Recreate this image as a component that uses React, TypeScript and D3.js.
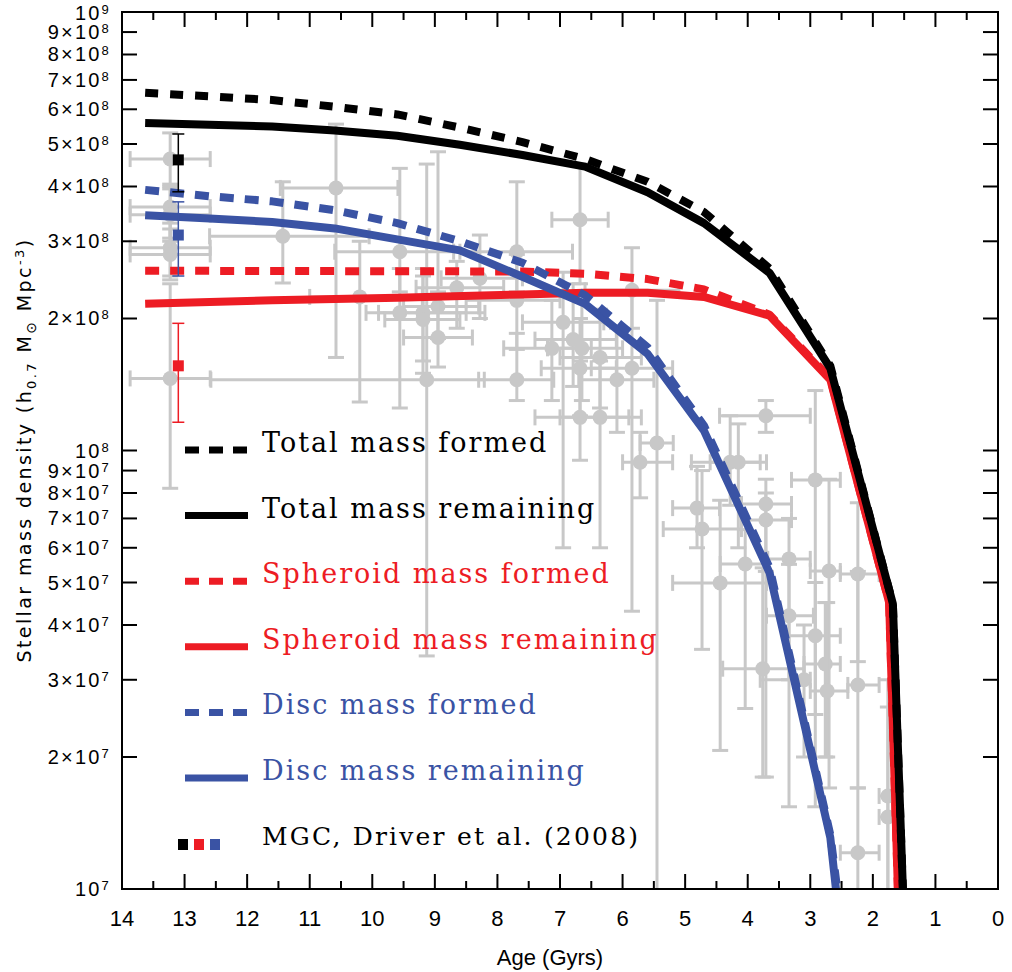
import * as d3 from "d3";

// model curves, [age in Gyr, stellar mass density]
const totalFormed: [number, number][] = [
  [13.63, 6.54e8], [12.6, 6.42e8], [11.6, 6.3e8], [10.6, 6.08e8], [9.6, 5.84e8],
  [8.6, 5.45e8], [7.6, 5.05e8], [6.6, 4.62e8], [5.6, 4.1e8], [4.7, 3.5e8],
  [3.65, 2.6e8], [2.68, 1.56e8], [1.68, 4.47e7], [1.52, 1e7],
];
const totalRemaining: [number, number][] = [
  [13.63, 5.58e8], [12.6, 5.53e8], [11.6, 5.48e8], [10.6, 5.37e8], [9.6, 5.22e8],
  [8.6, 4.98e8], [7.6, 4.72e8], [6.6, 4.44e8], [5.6, 3.88e8], [4.7, 3.3e8],
  [3.65, 2.54e8], [2.68, 1.54e8], [1.68, 4.47e7], [1.52, 1e7],
];
const spheroidFormed: [number, number][] = [
  [13.63, 2.57e8], [7.6, 2.56e8], [6.6, 2.53e8], [5.6, 2.46e8], [4.7, 2.33e8],
  [3.65, 2.04e8], [2.68, 1.46e8], [1.74, 4.5e7], [1.6, 1e7],
];
const spheroidRemaining: [number, number][] = [
  [13.63, 2.16e8], [11.6, 2.2e8], [9.6, 2.23e8], [7.6, 2.27e8], [6.6, 2.29e8],
  [5.6, 2.29e8], [4.7, 2.24e8], [3.65, 2.03e8], [2.68, 1.45e8], [1.74, 4.5e7], [1.6, 1e7],
];
const discFormed: [number, number][] = [
  [13.63, 3.93e8], [12.6, 3.8e8], [11.6, 3.7e8], [10.6, 3.53e8], [9.6, 3.3e8],
  [8.6, 3.0e8], [7.6, 2.68e8], [6.6, 2.26e8], [5.6, 1.72e8], [4.7, 1.14e8],
  [3.65, 5.4e7], [2.68, 1.33e7], [2.57, 1e7],
];
const discRemaining: [number, number][] = [
  [13.63, 3.44e8], [12.6, 3.38e8], [11.6, 3.32e8], [10.6, 3.21e8], [9.6, 3.03e8],
  [8.6, 2.86e8], [7.6, 2.49e8], [6.6, 2.16e8], [5.6, 1.66e8], [4.7, 1.11e8],
  [3.65, 5.26e7], [2.68, 1.31e7], [2.59, 1e7],
];

// MGC, Driver et al. (2008)
const mgcAge = 13.1;
const mgcValues = [4.6e8, 1.56e8, 3.1e8];
const mgcLow = [3.89e8, 1.16e8, 2.5e8];
const mgcHigh = [5.27e8, 1.95e8, 3.69e8];

// grey literature points: [age, value/1e8, age max, age min, value low, value high]
const greyPoints: number[][] = [
  [13.23, 4.62, 13.87, 12.59, 4.0, 5.3],
  [13.23, 3.59, 13.87, 12.59, 3.05, 4.05],
  [13.23, 3.45, 13.87, 12.59, 3.0, 3.95],
  [13.23, 2.9, 13.87, 12.59, 2.5, 3.3],
  [13.23, 2.8, 13.87, 12.59, 2.45, 3.2],
  [13.23, 1.46, 13.87, 12.59, 0.82, 2.4],
  [11.43, 3.08, 12.6, 10.05, 2.41, 4.1],
  [10.58, 3.97, 11.47, 9.59, 1.63, 5.55],
  [10.2, 2.24, 11.0, 9.2, 1.29, 3.0],
  [9.56, 2.84, 10.6, 8.7, 2.3, 4.4],
  [9.56, 2.06, 10.1, 8.2, 1.25, 2.6],
  [9.19, 2.06, 9.9, 8.5, 1.6, 2.6],
  [9.19, 1.99, 9.8, 8.6, 1.5, 2.5],
  [8.95, 2.13, 9.5, 8.3, 1.8, 4.8],
  [8.95, 1.81, 9.5, 8.4, 1.55, 2.3],
  [9.13, 1.45, 12.58, 8.21, 0.34, 4.5],
  [8.65, 2.35, 9.3, 7.9, 1.9, 2.7],
  [8.28, 2.47, 8.9, 7.6, 2.0, 3.1],
  [7.69, 2.84, 8.6, 6.8, 2.3, 4.1],
  [7.69, 2.2, 8.5, 7.0, 1.7, 2.8],
  [7.69, 1.45, 8.3, 7.1, 1.3, 1.85],
  [6.68, 3.36, 7.13, 6.23, 2.4, 4.5],
  [6.95, 1.96, 7.6, 6.3, 0.6, 2.55],
  [7.13, 1.71, 7.9, 6.5, 1.3, 2.2],
  [6.79, 1.79, 7.4, 6.1, 1.4, 2.4],
  [6.65, 1.71, 7.2, 6.0, 1.3, 2.2],
  [6.36, 1.63, 7.0, 5.7, 1.25, 2.1],
  [6.68, 1.54, 7.3, 6.1, 1.2, 2.0],
  [6.09, 1.45, 6.7, 5.5, 1.1, 1.9],
  [5.85, 1.54, 6.5, 5.2, 0.43, 2.3],
  [5.85, 2.32, 6.6, 5.1, 1.9, 2.9],
  [6.68, 1.19, 7.4, 5.9, 0.95, 1.6],
  [6.36, 1.19, 7.0, 5.7, 0.6, 1.6],
  [5.45, 1.04, 5.72, 5.19, 0.05, 2.2],
  [5.72, 0.94, 6.0, 5.2, 0.78, 1.1],
  [4.81, 0.739, 5.2, 4.45, 0.6, 0.92],
  [4.73, 0.662, 5.35, 4.1, 0.352, 0.9],
  [4.44, 0.499, 5.2, 3.7, 0.207, 0.77],
  [4.28, 0.94, 4.9, 3.7, 0.75, 1.2],
  [4.15, 0.94, 4.6, 3.8, 0.6, 1.15],
  [3.71, 1.2, 4.45, 3.0, 1.1, 1.3],
  [3.71, 0.755, 4.1, 3.3, 0.53, 0.86],
  [3.71, 0.694, 4.1, 3.3, 0.18, 0.8],
  [4.04, 0.551, 4.44, 3.7, 0.258, 0.66],
  [3.34, 0.566, 3.68, 3.0, 0.154, 0.7],
  [2.92, 0.857, 3.3, 2.52, 0.154, 1.37],
  [2.7, 0.531, 3.0, 2.52, 0.17, 0.86],
  [2.24, 0.523, 2.52, 1.9, 0.33, 0.76],
  [3.34, 0.42, 3.7, 2.95, 0.3, 0.55],
  [2.92, 0.378, 3.35, 2.52, 0.25, 0.5],
  [3.76, 0.318, 4.4, 3.1, 0.18, 0.54],
  [2.76, 0.326, 3.1, 2.52, 0.2, 0.45],
  [3.1, 0.3, 3.8, 3.0, 0.2, 0.4],
  [2.73, 0.283, 3.0, 2.4, 0.2, 0.45],
  [2.24, 0.292, 2.4, 1.9, 0.17, 0.53],
  [1.76, 0.163, 1.9, 1.65, 0.08, 0.3],
  [1.76, 0.146, 1.9, 1.65, 0.08, 0.26],
  [2.24, 0.121, 2.52, 1.9, 0.08, 0.17],
];

const xTickLabels = ["14", "13", "12", "11", "10", "9", "8", "7", "6", "5", "4", "3", "2", "1", "0"];
const yTickMantissa = ["", "2", "3", "4", "5", "6", "7", "8", "9"];
const yTickExponents = [7, 8];
const legendLabels = [
  "Total mass formed", "Total mass remaining", "Spheroid mass formed",
  "Spheroid mass remaining", "Disc mass formed", "Disc mass remaining",
];

const RED = "#ed1c24";
const BLUE = "#3a53a4";
const BLACK = "#000000";
const GREY = "#c8c8c8";

const App = () => {
  const left = 122, right = 998, top = 12, bottom = 889;
  const x = d3.scaleLinear().domain([14, 0]).range([left, right]);
  const y = d3.scaleLog().domain([1e7, 1e9]).range([bottom, top]);
  const line = d3.line<[number, number]>().x((d) => x(d[0])).y((d) => y(d[1]));

  const curves = [
    { data: spheroidRemaining, color: RED, dash: null },
    { data: spheroidFormed, color: RED, dash: "14 11" },
    { data: discRemaining, color: BLUE, dash: null },
    { data: discFormed, color: BLUE, dash: "14 11" },
    { data: totalRemaining, color: BLACK, dash: null },
    { data: totalFormed, color: BLACK, dash: "13 12" },
  ];
  const legendColors = [BLACK, BLACK, RED, RED, BLUE, BLUE];
  const mgcColors = [BLACK, RED, BLUE];

  const yTicks: { v: number; m: string; e: number }[] = [];
  yTickExponents.forEach((e) =>
    yTickMantissa.forEach((m, i) => yTicks.push({ v: (i + 1) * Math.pow(10, e), m, e }))
  );
  yTicks.push({ v: 1e9, m: "", e: 9 });

  const cap = 8;

  return (
    <svg width={1012} height={972} style={{ position: "absolute", left: 0, top: 0, background: "#fff" }}>
      <defs>
        <clipPath id="plot">
          <rect x={left} y={top} width={right - left} height={bottom - top} />
        </clipPath>
      </defs>

      {/* grey literature points */}
      <g clipPath="url(#plot)" stroke={GREY} strokeWidth={3} fill={GREY}>
        {greyPoints.map((p, i) => {
          const cx = x(p[0]), cy = y(p[1] * 1e8);
          const x0 = x(p[2]), x1 = x(p[3]);
          const y0 = y(p[4] * 1e8), y1 = y(p[5] * 1e8);
          return (
            <g key={i}>
              <line x1={x0} x2={x1} y1={cy} y2={cy} />
              <line x1={x0} x2={x0} y1={cy - cap} y2={cy + cap} />
              <line x1={x1} x2={x1} y1={cy - cap} y2={cy + cap} />
              <line x1={cx} x2={cx} y1={y0} y2={y1} />
              <line x1={cx - cap} x2={cx + cap} y1={y0} y2={y0} />
              <line x1={cx - cap} x2={cx + cap} y1={y1} y2={y1} />
              <circle cx={cx} cy={cy} r={7.5} stroke="none" />
            </g>
          );
        })}
      </g>

      {/* model curves */}
      <g clipPath="url(#plot)" fill="none" strokeWidth={8} strokeLinejoin="round">
        {curves.map((c, i) => (
          <path key={i} d={line(c.data) || ""} stroke={c.color} strokeDasharray={c.dash || undefined} />
        ))}
      </g>

      {/* MGC points */}
      <g>
        {mgcValues.map((v, i) => {
          const cx = x(mgcAge);
          return (
            <g key={i} stroke={mgcColors[i]} strokeWidth={1.5}>
              <line x1={cx} x2={cx} y1={y(mgcLow[i])} y2={y(mgcHigh[i])} />
              <line x1={cx - 6} x2={cx + 6} y1={y(mgcLow[i])} y2={y(mgcLow[i])} />
              <line x1={cx - 6} x2={cx + 6} y1={y(mgcHigh[i])} y2={y(mgcHigh[i])} />
              <rect x={cx - 5.5} y={y(v) - 5.5} width={11} height={11} fill={mgcColors[i]} stroke="none" />
            </g>
          );
        })}
      </g>

      {/* frame and ticks */}
      <g stroke="#000" strokeWidth={2} fill="none">
        <rect x={left} y={top} width={right - left} height={bottom - top} />
        {d3.range(0, 15).map((t) => (
          <g key={"xt" + t}>
            <line x1={x(t)} x2={x(t)} y1={bottom} y2={bottom - 15} />
            <line x1={x(t)} x2={x(t)} y1={top} y2={top + 15} />
          </g>
        ))}
        {d3.range(0.5, 14, 1).map((t) => (
          <g key={"xm" + t}>
            <line x1={x(t)} x2={x(t)} y1={bottom} y2={bottom - 8} />
            <line x1={x(t)} x2={x(t)} y1={top} y2={top + 8} />
          </g>
        ))}
        {yTicks.map((t, i) => (
          <g key={"yt" + i}>
            <line x1={left} x2={left + 15} y1={y(t.v)} y2={y(t.v)} />
            <line x1={right} x2={right - 15} y1={y(t.v)} y2={y(t.v)} />
          </g>
        ))}
      </g>

      {/* tick labels */}
      <g fontFamily="'Liberation Sans', Arial, sans-serif" fill="#000">
        {xTickLabels.map((s, i) => (
          <text key={s} x={x(14 - i)} y={926} fontSize={22} textAnchor="middle">{s}</text>
        ))}
        {yTicks.map((t, i) => (
          <text key={"yl" + i} x={111} y={y(t.v) + 7 + (t.e === 9 ? 1 : 0)} fontSize={20} letterSpacing={2.2} textAnchor="end">
            {t.m ? `${t.m}×10` : "10"}
            <tspan dy={-6} fontSize={13}>{t.e}</tspan>
          </text>
        ))}
        <text x={550} y={965} fontSize={22} textAnchor="middle">Age (Gyrs)</text>
      </g>

      {/* y axis title */}
      <text transform="translate(31,450) rotate(-90)" textAnchor="middle" fontFamily="'DejaVu Sans', sans-serif"
        fontSize={19} letterSpacing={2.4} fill="#000">
        Stellar mass density (h<tspan dy={5} fontSize={13}>0.7</tspan>
        <tspan dy={-5}> M</tspan><tspan dy={5} fontSize={14}>⊙</tspan>
        <tspan dy={-5}> Mpc</tspan><tspan dy={-7} fontSize={13}>-3</tspan>
        <tspan dy={7}>)</tspan>
      </text>

      {/* legend */}
      <g fontFamily="'DejaVu Serif', serif">
        {legendLabels.map((s, i) => {
          const ly = 450 + i * 65.6;
          return (
            <g key={s}>
              <line x1={185} x2={248} y1={ly} y2={ly} stroke={legendColors[i]} strokeWidth={7}
                strokeDasharray={i % 2 === 0 ? "14 10" : undefined} />
              <text x={262} y={ly + 2} fontSize={27} letterSpacing={2} fill={legendColors[i]}>{s}</text>
            </g>
          );
        })}
        {mgcColors.map((c, i) => (
          <rect key={c} x={178 + i * 16} y={839} width={10} height={11} fill={c} />
        ))}
        <text x={262} y={845} fontSize={25} letterSpacing={2.2} fill="#000">MGC, Driver et al. (2008)</text>
      </g>
    </svg>
  );
};

export default App;
